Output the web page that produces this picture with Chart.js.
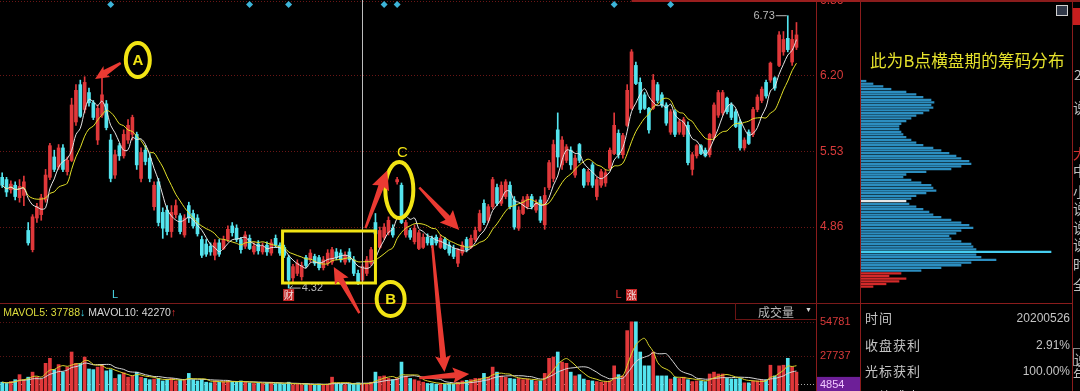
<!DOCTYPE html>
<html>
<head>
<meta charset="utf-8">
<script src="https://cdn.jsdelivr.net/npm/chart.js@4.4.1/dist/chart.umd.min.js"></script>
<style>
  html, body { margin: 0; padding: 0; background: #000; }
  #wrap { position: relative; width: 1080px; height: 391px; overflow: hidden; background: #000;
          font-family: "Liberation Sans", Arial, sans-serif; }
  canvas { position: absolute; }
  #kline { left: 0; top: 0; }
  #chips { left: 861px; top: 0; }
  .t { position: absolute; white-space: nowrap; }
  .cn { font-family: "Noto Sans CJK SC", sans-serif; }
  .ln { position: absolute; background: #8a1c1c; }
  .row { position: absolute; left: 865px; font-size: 13px; color: #c4c4c4; letter-spacing: 1px; }
  .val { position: absolute; right: 10px; font-size: 12px; color: #c4c4c4; }
</style>
</head>
<body>
<div id="wrap">
  <canvas id="kline" width="860" height="391"></canvas>
  <canvas id="chips" width="211" height="303"></canvas>

  <!-- frame lines -->
  <div class="ln" style="left:860px;top:0;width:1px;height:391px"></div>
  <div class="ln" style="left:1072px;top:0;width:1px;height:391px"></div>
  <div class="ln" style="left:860px;top:0;width:220px;height:2px"></div>
  <div class="ln" style="left:860px;top:303px;width:212px;height:1px"></div>

  <!-- volume header -->
  <div class="t" style="left:-5px;top:305px;font-size:10.5px;line-height:14px">
    <span style="color:#3ad0e0">↓ </span><span style="color:#dcdc3c">MAVOL5: 37788</span><span style="color:#3ad0e0">↓</span>
    <span style="color:#d8d8d8">MAVOL10: 42270</span><span style="color:#e03030">↑</span>
  </div>
  <div class="t" style="left:735px;top:303px;width:80px;height:16px;border-left:1px solid #6a1414;border-bottom:1px solid #6a1414"></div>
  <div class="t cn" style="left:758px;top:303px;font-size:12px;line-height:17px;color:#b8b8b8">成交量</div>
  <div class="t" style="left:805px;top:305px;font-size:7px;line-height:10px;color:#d8d8d8">▼</div>

  <!-- chip panel -->
  <div class="t cn" style="left:870px;top:48px;font-size:16.5px;line-height:24px;color:#e6e22c;letter-spacing:0.2px">此为B点横盘期的筹码分布</div>
  <div class="t" style="left:1056px;top:5px;width:10px;height:9px;border:1px solid #d0d0d0;background:#303848"></div>

  <!-- cut off side column -->
  <div class="t" style="left:1073px;top:8px;width:7px;height:17px;background:#c81e1e"></div>
  <div class="t cn" style="left:1073px;top:0;width:7px;height:391px;overflow:hidden;font-size:14px;color:#c0c0c0">
    <div class="t" style="left:1px;top:64px">2</div>
    <div class="t" style="left:0;top:97px">说</div>
    <div class="t" style="left:0;top:143px;color:#d03030">大</div>
    <div class="t" style="left:0;top:160px">中</div>
    <div class="t" style="left:0;top:181px">小</div>
    <div class="t" style="left:0;top:198px">说</div>
    <div class="t" style="left:0;top:217px">说</div>
    <div class="t" style="left:0;top:234px">说</div>
    <div class="t" style="left:0;top:254px">时</div>
    <div class="t" style="left:0;top:274px">全</div>
    <div class="t" style="left:0;top:348px;border:1px solid #888;width:12px;height:16px">说</div>
    <div class="t" style="left:0;top:364px">年</div>
  </div>

  <!-- info table -->
  <div class="row cn" style="top:308px">时间</div>
  <div class="val" style="top:311px">20200526</div>
  <div class="row cn" style="top:335px">收盘获利</div>
  <div class="val" style="top:338px">2.91%</div>
  <div class="row cn" style="top:361px">光标获利</div>
  <div class="val" style="top:364px">100.00%</div>
  <div class="row cn" style="top:386px">平均成本</div>
</div>

<script>
// ---- price data (one entry per trading day) ----
const openP = [
  5.30, 5.28, 5.19, 5.23, 5.12, 5.14, 4.83, 4.66, 4.94, 4.97,
  5.10, 5.30, 5.48, 5.39, 5.56, 5.35, 5.45, 5.79, 6.12, 5.90,
  6.05, 5.96, 5.63, 5.85, 5.95, 5.63, 5.32, 5.58, 5.49, 5.63,
  5.68, 5.68, 5.29, 5.54, 5.47, 5.04, 5.26, 4.99, 5.01, 4.82,
  4.97, 4.96, 4.79, 5.05, 4.98, 4.94, 4.75, 4.71, 4.69, 4.61,
  4.72, 4.67, 4.75, 4.87, 4.85, 4.75, 4.69, 4.76, 4.64, 4.71,
  4.64, 4.70, 4.63, 4.76, 4.70, 4.68, 4.59, 4.41, 4.45, 4.42,
  4.59, 4.57, 4.60, 4.59, 4.50, 4.54, 4.55, 4.64, 4.63, 4.55,
  4.64, 4.57, 4.45, 4.39, 4.45, 4.54, 4.90, 4.68, 4.77, 4.81,
  4.85, 5.26, 5.23, 4.79, 4.83, 4.73, 4.67, 4.68, 4.77, 4.76,
  4.77, 4.68, 4.75, 4.70, 4.67, 4.54, 4.63, 4.75, 4.68, 4.75,
  4.83, 5.07, 4.92, 5.04, 5.21, 5.07, 5.13, 5.23, 5.10, 4.85,
  4.98, 5.04, 5.13, 5.01, 5.10, 4.88, 5.21, 5.29, 5.72, 5.41,
  5.45, 5.54, 5.32, 5.59, 5.37, 5.26, 5.41, 5.13, 5.23, 5.25,
  5.38, 5.51, 5.69, 5.50, 5.76, 5.91, 6.29, 6.14, 6.03, 5.91,
  5.91, 6.12, 6.03, 5.94, 5.70, 5.88, 5.70, 5.68, 5.76, 5.37,
  5.49, 5.58, 5.54, 5.50, 5.65, 5.85, 5.87, 6.00, 5.94, 5.88,
  5.79, 5.56, 5.70, 5.68, 5.90, 5.98, 6.14, 6.16, 6.18, 6.29,
  6.41, 6.53, 6.32, 6.45
];
const closeP = [
  5.23, 5.17, 5.24, 5.13, 5.22, 5.26, 4.72, 4.95, 5.04, 5.12,
  5.32, 5.58, 5.37, 5.56, 5.37, 5.45, 5.94, 6.07, 5.84, 6.14,
  5.96, 5.83, 5.91, 6.03, 5.74, 5.29, 5.50, 5.49, 5.68, 5.76,
  5.83, 5.41, 5.52, 5.44, 5.29, 5.23, 4.90, 4.85, 4.82, 4.99,
  5.05, 4.82, 4.94, 4.94, 4.87, 4.80, 4.61, 4.62, 4.64, 4.72,
  4.62, 4.75, 4.84, 4.81, 4.75, 4.66, 4.79, 4.67, 4.69, 4.65,
  4.69, 4.64, 4.72, 4.70, 4.63, 4.61, 4.39, 4.51, 4.54, 4.52,
  4.52, 4.63, 4.54, 4.50, 4.57, 4.63, 4.66, 4.59, 4.57, 4.61,
  4.57, 4.45, 4.37, 4.51, 4.57, 4.66, 4.80, 4.83, 4.86, 4.92,
  4.79, 5.28, 4.90, 4.90, 4.77, 4.85, 4.81, 4.77, 4.72, 4.70,
  4.72, 4.76, 4.67, 4.63, 4.60, 4.66, 4.70, 4.66, 4.76, 4.83,
  4.98, 4.90, 5.04, 5.28, 5.07, 5.23, 5.26, 5.04, 4.86, 5.01,
  5.10, 5.13, 5.04, 5.07, 4.92, 5.14, 5.43, 5.59, 5.48, 5.63,
  5.57, 5.41, 5.47, 5.45, 5.23, 5.35, 5.23, 5.28, 5.35, 5.34,
  5.54, 5.76, 5.50, 5.67, 6.07, 6.41, 6.13, 5.90, 5.91, 5.72,
  6.16, 5.98, 5.94, 5.78, 5.88, 5.68, 5.79, 5.81, 5.43, 5.50,
  5.58, 5.51, 5.49, 5.68, 5.94, 6.05, 6.05, 5.88, 5.83, 5.75,
  5.56, 5.63, 5.60, 5.90, 6.01, 6.08, 6.02, 6.31, 6.09, 6.56,
  6.52, 6.43, 6.52, 6.56
];
const highP = [
  5.34, 5.30, 5.27, 5.26, 5.28, 5.31, 4.90, 4.97, 5.07, 5.15,
  5.37, 5.60, 5.54, 5.59, 5.59, 5.48, 6.00, 6.12, 6.16, 6.19,
  6.09, 5.98, 5.94, 6.22, 5.98, 5.68, 5.54, 5.60, 5.72, 5.81,
  5.85, 5.70, 5.56, 5.58, 5.51, 5.26, 5.29, 5.03, 5.05, 5.05,
  5.10, 4.98, 4.97, 5.08, 5.01, 4.97, 4.78, 4.75, 4.72, 4.75,
  4.75, 4.78, 4.87, 4.90, 4.88, 4.77, 4.82, 4.79, 4.72, 4.74,
  4.72, 4.73, 4.75, 4.79, 4.72, 4.70, 4.61, 4.53, 4.57, 4.55,
  4.61, 4.66, 4.62, 4.61, 4.60, 4.66, 4.68, 4.67, 4.66, 4.64,
  4.67, 4.60, 4.48, 4.53, 4.60, 4.68, 4.98, 4.86, 4.89, 4.95,
  4.88, 5.30, 5.25, 4.92, 4.85, 4.88, 4.83, 4.80, 4.80, 4.78,
  4.79, 4.79, 4.77, 4.73, 4.70, 4.67, 4.73, 4.77, 4.79, 4.86,
  5.01, 5.10, 5.06, 5.30, 5.24, 5.26, 5.28, 5.26, 5.13, 5.04,
  5.13, 5.15, 5.15, 5.10, 5.13, 5.21, 5.45, 5.63, 5.87, 5.66,
  5.59, 5.57, 5.50, 5.60, 5.38, 5.37, 5.43, 5.30, 5.37, 5.37,
  5.56, 5.87, 5.72, 5.69, 6.12, 6.43, 6.32, 6.18, 6.05, 5.92,
  6.21, 6.14, 6.05, 5.96, 5.90, 5.90, 5.81, 5.83, 5.79, 5.52,
  5.59, 5.59, 5.56, 5.69, 5.96, 6.07, 6.07, 6.01, 5.96, 5.90,
  5.81, 5.65, 5.72, 5.92, 6.03, 6.10, 6.16, 6.32, 6.19, 6.59,
  6.59, 6.73, 6.60, 6.67
];
const lowP = [
  5.21, 5.13, 5.16, 5.10, 5.08, 5.05, 4.70, 4.64, 4.90, 4.92,
  5.08, 5.28, 5.35, 5.37, 5.35, 5.32, 5.44, 5.76, 5.83, 5.87,
  5.93, 5.81, 5.59, 5.83, 5.72, 5.26, 5.29, 5.45, 5.47, 5.60,
  5.63, 5.37, 5.26, 5.41, 5.26, 5.01, 4.87, 4.76, 4.79, 4.77,
  4.94, 4.80, 4.77, 4.90, 4.85, 4.78, 4.59, 4.60, 4.61, 4.57,
  4.60, 4.66, 4.73, 4.78, 4.73, 4.63, 4.67, 4.66, 4.62, 4.62,
  4.62, 4.61, 4.61, 4.68, 4.61, 4.59, 4.32, 4.37, 4.43, 4.39,
  4.50, 4.55, 4.52, 4.48, 4.48, 4.52, 4.53, 4.57, 4.55, 4.53,
  4.55, 4.43, 4.35, 4.37, 4.43, 4.52, 4.75, 4.67, 4.75, 4.79,
  4.77, 5.24, 4.89, 4.77, 4.75, 4.71, 4.66, 4.67, 4.70, 4.68,
  4.70, 4.67, 4.66, 4.61, 4.58, 4.51, 4.61, 4.64, 4.67, 4.73,
  4.82, 4.88, 4.90, 5.02, 5.05, 5.05, 5.11, 5.02, 4.84, 4.83,
  4.97, 5.02, 5.02, 4.99, 4.90, 4.84, 5.19, 5.26, 5.39, 5.37,
  5.43, 5.37, 5.30, 5.43, 5.21, 5.23, 5.21, 5.10, 5.21, 5.22,
  5.37, 5.50, 5.47, 5.47, 5.75, 5.90, 6.12, 5.87, 5.90, 5.69,
  5.90, 5.96, 5.92, 5.76, 5.68, 5.66, 5.68, 5.66, 5.41, 5.32,
  5.47, 5.50, 5.48, 5.48, 5.63, 5.83, 5.85, 5.86, 5.81, 5.74,
  5.54, 5.54, 5.59, 5.66, 5.88, 5.96, 6.00, 6.14, 6.07, 6.28,
  6.38, 6.41, 6.29, 6.43
];
const volumes = [
  7000, 6000, 7500, 9000, 13000, 9000, 11000, 15000, 11000, 9500,
  22000, 26000, 17000, 21000, 15000, 19000, 31000, 22000, 22000, 27000,
  17500, 17000, 19000, 21000, 16000, 17000, 10000, 13000, 14500, 11000,
  12000, 15000, 11000, 10000, 9000, 9500, 10000, 8000, 9000, 10000,
  8000, 9000, 8500, 14000, 9000, 8000, 9000, 7000, 6500, 8000,
  7000, 7500, 8000, 7000, 7500, 8000, 7000, 6500, 6000, 6500,
  6000, 6500, 7000, 6000, 6000, 5500, 7000, 5000, 5500, 5000,
  5500, 5000, 5000, 5500, 5000, 5500, 11000, 6000, 5500, 5000,
  5500, 6000, 6500, 5500, 6000, 7000, 15000, 11500, 12000, 10000,
  9000, 10000, 23000, 12000, 10000, 9000, 8000, 7000, 6000, 6000,
  5500, 6000, 5500, 6000, 5500, 7000, 8000, 8500, 9000, 10000,
  10000, 14000, 11000, 19000, 15000, 12000, 11000, 10000, 9500, 10000,
  9000, 9500, 8500, 8000, 8000, 14000, 26000, 27000, 31000, 23000,
  22000, 15000, 12000, 13000, 9500, 8500, 8000, 7500, 7000, 7500,
  8000, 20000, 13000, 12000, 48000, 55000, 55000, 31000, 20000, 20000,
  31000, 12000, 12000, 12000, 9500, 11000, 10000, 11000, 9000, 7500,
  8000, 8000, 7500, 13500, 15000, 13500, 13500, 10000, 9500, 9500,
  10000, 6500, 6500, 8000, 8000, 9000, 9000, 20500, 12000, 20000,
  20500, 26000, 19000, 15000
];
const priceTicks = [4.86, 5.53, 6.20, 6.86];
const volTicks = [4854, 27737, 54781];

// ---- chip distribution (cost level -> amount) at point B ----
const chipPrices = [
  6.152, 6.128, 6.105, 6.081, 6.057, 6.034, 6.010, 5.986, 5.963, 5.939,
  5.916, 5.892, 5.868, 5.845, 5.821, 5.797, 5.774, 5.750, 5.727, 5.703,
  5.679, 5.656, 5.632, 5.608, 5.585, 5.561, 5.538, 5.514, 5.490, 5.467,
  5.443, 5.419, 5.396, 5.372, 5.349, 5.325, 5.301, 5.278, 5.254, 5.230,
  5.207, 5.183, 5.160, 5.136, 5.112, 5.089, 5.065, 5.041, 5.018, 4.994,
  4.971, 4.947, 4.923, 4.900, 4.876, 4.852, 4.829, 4.805, 4.782, 4.758,
  4.734, 4.711, 4.687, 4.663, 4.640, 4.616, 4.593, 4.569, 4.545, 4.522,
  4.498, 4.474, 4.451, 4.427, 4.404, 4.380, 4.356, 4.333
];
const chipAmounts = [
  5, 12, 22, 30, 45, 55, 62, 70, 73, 70,
  72, 68, 62, 55, 50, 45, 40, 38, 38, 40,
  42, 45, 50, 55, 62, 72, 80, 88, 95, 100,
  108, 110, 100, 90, 65, 45, 42, 50, 60, 70,
  72, 75, 65, 55, 50, 45, 48, 55, 62, 68,
  72, 80, 90, 100, 108, 112, 100, 95, 88, 90,
  100, 110, 112, 115, 190, 115, 120, 135, 110, 100,
  80, 60, 40, 28, 45, 38, 25, 12
];
const chipSplit = 4.46;     // price at point B: chips below are in profit
const chipAvgCost = 5.089;
const chipPeak = 4.640;

const SLOTS = 188;
const cursorIdx = 83;
const UP = '#e0383a', DOWN = '#54e4ee';

const labels = Array.from({ length: SLOTS }, (_, i) => String(i));
const candleColors = closeP.map((c, i) => c >= openP[i] ? UP : DOWN);

function movingAvg(arr, n) {
  return arr.map((_, i) => {
    const part = arr.slice(Math.max(0, i - n + 1), i + 1);
    return part.reduce((a, b) => a + b, 0) / part.length;
  });
}

const ma5 = movingAvg(closeP, 5);
const ma10 = movingAvg(closeP, 10);
const mavol5 = movingAvg(volumes, 5);
const mavol10 = movingAvg(volumes, 10);

// hand drawn notes, placed in (day index, price) terms
const notes = {
  rings: [
    { i: 31.25, p: 6.338, rx: 12, ry: 17, text: 'A' },
    { i: 91.5, p: 5.188, rx: 14, ry: 28, text: '' },
    { i: 89.5, p: 4.223, rx: 14, ry: 17, text: 'B' }
  ],
  arrows: [
    [27.3, 6.311, 21.4, 6.170, 10],
    [83.7, 4.851, 88.7, 5.36, 14],
    [96.1, 5.21, 105.3, 4.834, 14],
    [99.1, 4.701, 101.9, 3.577, 12],
    [96.1, 3.524, 107.6, 3.56, 12],
    [82.3, 4.099, 76.4, 4.506, 12]
  ],
  box: [64.6, 4.825, 86.0, 4.365],
  cLabel: [92.2, 5.515]
};
const diamonds = [25, 57, 66, 88, 91, 141, 154];
const marks = [
  { i: 26, text: 'L', color: '#4ad8e8' },
  { i: 66, text: '财', boxed: true },
  { i: 142, text: 'L', color: '#e03030' },
  { i: 145, text: '涨', boxed: true }
];

function drawArrow(ctx, x1, y1, x2, y2, head) {
  const a = Math.atan2(y2 - y1, x2 - x1);
  const len = Math.hypot(x2 - x1, y2 - y1);
  const hl = head * 1.2, hw = head * 0.65;
  ctx.save();
  ctx.translate(x1, y1);
  ctx.rotate(a);
  ctx.beginPath();
  ctx.moveTo(0, -1.2);
  ctx.lineTo(len - hl, -3);
  ctx.lineTo(len - hl - 2, -hw);
  ctx.lineTo(len, 0);
  ctx.lineTo(len - hl - 2, hw);
  ctx.lineTo(len - hl, 3);
  ctx.lineTo(0, 1.2);
  ctx.closePath();
  ctx.fillStyle = '#ea3a32';
  ctx.fill();
  ctx.restore();
}

const deco = {
  id: 'deco',
  beforeDraw(chart) {
    const { ctx, chartArea } = chart;
    const yV = chart.scales.yV;
    ctx.save();
    ctx.fillStyle = '#000';
    ctx.fillRect(0, 0, chart.width, chart.height);
    const y = yV.getPixelForValue(volTicks[0]);
    ctx.fillStyle = '#6d1f98';
    ctx.fillRect(chartArea.right + 1, y - 8, chart.width - chartArea.right - 1, 16);
    ctx.restore();
  },
  afterDatasetsDraw(chart) {
    const { ctx } = chart;
    const xs = chart.scales.x, yP = chart.scales.yP, yV = chart.scales.yV;
    ctx.save();
    // panel separator and top frame
    ctx.fillStyle = '#7a1a1a';
    ctx.fillRect(0, Math.round(yV.top), chart.width, 1);
    ctx.fillStyle = '#9a1e1e';
    ctx.fillRect(xs.getPixelForValue(145), 0, chart.width, 2);
    // cursor line
    const cx = Math.round(xs.getPixelForValue(cursorIdx)) + 0.5;
    ctx.strokeStyle = '#bdbdbd';
    ctx.lineWidth = 1;
    ctx.beginPath();
    ctx.moveTo(cx, 0);
    ctx.lineTo(cx, chart.height);
    ctx.stroke();
    // top diamonds
    ctx.fillStyle = '#3cb4d8';
    diamonds.forEach(i => {
      const x = xs.getPixelForValue(i);
      ctx.beginPath();
      ctx.moveTo(x, 1); ctx.lineTo(x + 3.5, 4.5); ctx.lineTo(x, 8); ctx.lineTo(x - 3.5, 4.5);
      ctx.closePath();
      ctx.fill();
    });
    // low / high labels
    ctx.font = '11px "Liberation Sans"';
    ctx.textBaseline = 'middle';
    ctx.fillStyle = '#b8b8b8';
    ctx.strokeStyle = '#b8b8b8';
    const lx = xs.getPixelForValue(66), ly = yP.getPixelForValue(4.32);
    ctx.beginPath();
    ctx.moveTo(lx + 1, ly); ctx.lineTo(lx + 12, ly);
    ctx.moveTo(lx + 1, ly); ctx.lineTo(lx + 4, ly - 2.5);
    ctx.moveTo(lx + 1, ly); ctx.lineTo(lx + 4, ly + 2.5);
    ctx.stroke();
    ctx.textAlign = 'left';
    ctx.fillText('4.32', lx + 13, ly);
    const hx = xs.getPixelForValue(181), hy = yP.getPixelForValue(6.73);
    ctx.beginPath();
    ctx.moveTo(hx - 12, hy); ctx.lineTo(hx - 1, hy);
    ctx.stroke();
    ctx.textAlign = 'right';
    ctx.fillText('6.73', hx - 13, hy);
    // bottom markers
    const my = yP.bottom - 8;
    ctx.textAlign = 'center';
    marks.forEach(m => {
      const x = xs.getPixelForValue(m.i);
      if (m.boxed) {
        ctx.fillStyle = '#c42626';
        ctx.fillRect(x - 5.5, my - 6, 11, 12);
        ctx.fillStyle = '#f0e0e0';
        ctx.font = '10px "Noto Sans CJK SC"';
      } else {
        ctx.fillStyle = m.color;
        ctx.font = '11px "Liberation Sans"';
      }
      ctx.fillText(m.text, x, my);
    });
    ctx.restore();
  },
  afterDraw(chart) {
    const { ctx } = chart;
    const xs = chart.scales.x, yP = chart.scales.yP;
    const X = i => xs.getPixelForValue(0) + i * (xs.getPixelForValue(1) - xs.getPixelForValue(0));
    const Y = p => yP.getPixelForValue(p);
    ctx.save();
    ctx.strokeStyle = '#f2e414';
    ctx.fillStyle = '#f2e414';
    // consolidation box
    const [i1, p1, i2, p2] = notes.box;
    ctx.lineWidth = 3;
    ctx.strokeRect(X(i1), Y(p1), X(i2) - X(i1), Y(p2) - Y(p1));
    // rings
    ctx.lineWidth = 4;
    ctx.font = 'bold 15px "Liberation Sans"';
    ctx.textAlign = 'center';
    ctx.textBaseline = 'middle';
    notes.rings.forEach(r => {
      ctx.beginPath();
      ctx.ellipse(X(r.i), Y(r.p), r.rx, r.ry, 0, 0, Math.PI * 2);
      ctx.stroke();
      if (r.text) ctx.fillText(r.text, X(r.i), Y(r.p) + 1);
    });
    ctx.font = '15px "Liberation Sans"';
    ctx.fillText('C', X(notes.cLabel[0]), Y(notes.cLabel[1]));
    // arrows
    notes.arrows.forEach(a => drawArrow(ctx, X(a[0]), Y(a[1]), X(a[2]), Y(a[3]), a[4]));
    ctx.restore();
  }
};

new Chart(document.getElementById('kline'), {
  type: 'bar',
  data: {
    labels: labels,
    datasets: [
      { type: 'line', data: ma5, borderColor: '#e6e6e6', borderWidth: 1, pointRadius: 0, tension: 0.35, yAxisID: 'yP', order: 0 },
      { type: 'line', data: ma10, borderColor: '#e2e028', borderWidth: 1, pointRadius: 0, tension: 0.35, yAxisID: 'yP', order: 0 },
      { type: 'line', data: mavol5, borderColor: '#d8d22a', borderWidth: 1, pointRadius: 0, tension: 0.35, yAxisID: 'yV', order: 0 },
      { type: 'line', data: mavol10, borderColor: '#d6d6d6', borderWidth: 1, pointRadius: 0, tension: 0.35, yAxisID: 'yV', order: 0 },
      { data: openP.map((o, i) => [o, closeP[i]]), backgroundColor: candleColors, barThickness: 3, minBarLength: 1,
        grouped: false, yAxisID: 'yP', order: 1 },
      { data: lowP.map((l, i) => [l, highP[i]]), backgroundColor: candleColors, barThickness: 1,
        grouped: false, yAxisID: 'yP', order: 2 },
      { data: volumes, backgroundColor: candleColors, barThickness: 3, grouped: false, yAxisID: 'yV', order: 1 }
    ]
  },
  options: {
    responsive: false,
    animation: false,
    layout: { padding: 0 },
    plugins: { legend: { display: false }, tooltip: { enabled: false } },
    scales: {
      x: { type: 'category', display: false, offset: true },
      yP: {
        type: 'linear', position: 'right', stack: 'panes', stackWeight: 303,
        min: 4.188, max: 6.869,
        afterBuildTicks: s => { s.ticks = priceTicks.map(v => ({ value: v })); },
        afterFit: s => { s.width = 44; s.paddingTop = 0; s.paddingBottom = 0; },
        ticks: { color: '#d83a3a', padding: 4, autoSkip: false, font: { family: 'Liberation Sans', size: 12 },
                 callback: v => v.toFixed(2) },
        grid: { color: '#6a1616', drawTicks: false },
        border: { color: '#8a1c1c', dash: [1, 2] }
      },
      yV: {
        type: 'linear', position: 'right', stack: 'panes', stackWeight: 88,
        min: 0, max: 69960,
        afterBuildTicks: s => { s.ticks = volTicks.map(v => ({ value: v })); },
        afterFit: s => { s.width = 44; s.paddingTop = 0; s.paddingBottom = 0; },
        ticks: { padding: 4, autoSkip: false, font: { family: 'Liberation Sans', size: 11 },
                 color: c => (c.tick && c.tick.value === volTicks[0]) ? '#f0c8ff' : '#d83a3a',
                 callback: v => String(v) },
        grid: { drawTicks: false,
                color: c => (c.tick && c.tick.value === volTicks[0]) ? '#a8a8a8' : '#5a1414' },
        border: { color: '#8a1c1c', dash: [1, 2] }
      }
    }
  },
  plugins: [deco]
});

new Chart(document.getElementById('chips'), {
  type: 'bar',
  data: {
    datasets: [{
      data: chipPrices.map((p, i) => ({ x: chipAmounts[i], y: p })),
      backgroundColor: chipPrices.map(p => p === chipAvgCost ? '#e6e6e6' : p === chipPeak ? '#46cdf0'
                                          : p < chipSplit ? '#d42a2a' : '#2c8ec0'),
      barThickness: 1.6,
      borderWidth: 0
    }]
  },
  options: {
    indexAxis: 'y',
    responsive: false,
    animation: false,
    layout: { padding: 0 },
    plugins: { legend: { display: false }, tooltip: { enabled: false } },
    scales: {
      x: { type: 'linear', display: false, min: 0, max: 211, offset: false },
      y: { type: 'linear', display: false, min: 4.188, max: 6.869, offset: false }
    }
  }
});
</script>
</body>
</html>
